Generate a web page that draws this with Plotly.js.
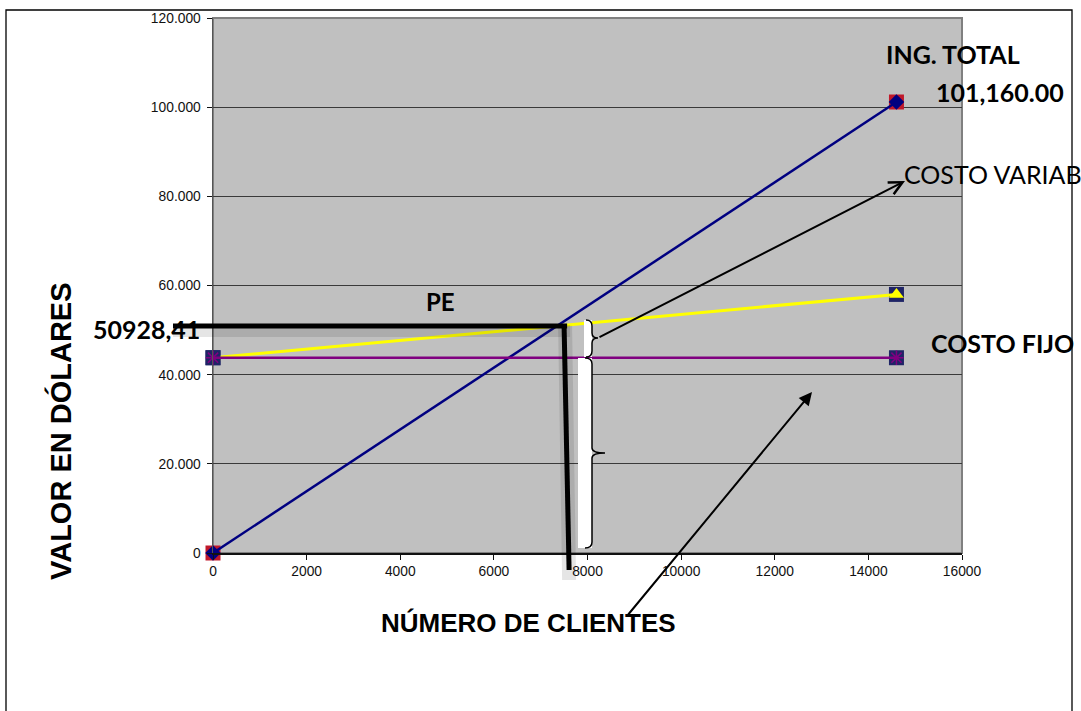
<!DOCTYPE html>
<html>
<head>
<meta charset="utf-8">
<script src="https://cdn.plot.ly/plotly-3.0.1.min.js"></script>
<style>html,body{margin:0;padding:0;background:#fff;}#chart{width:1081px;height:711px;}</style>
</head>
<body>
<div id="chart"></div>
<script>
// ---- data ----
const clientes = [0, 14600];
const ingresoTotal = [0, 101160];
const costoFijo = [43800, 43800];
const costoTotal = [43800, 58000];
const peClientes = 7500;
const peValor = 50928.41;
const xRange = [0, 16000];
const yRange = [0, 120000];

// ---- geometry helpers ----
const W = 1081, H = 711, ML = 213, MR = 119, MT = 18, MB = 158;
const PW = W - ML - MR, PH = H - MT - MB;
const xp = px => (px - ML) / PW;          // pixel -> paper
const yp = py => (H - MB - py) / PH;
const xd = v => (v - xRange[0]) / (xRange[1] - xRange[0]);  // data -> paper
const yd = v => (v - yRange[0]) / (yRange[1] - yRange[0]);
const P = (x, y) => `${xp(x)},${yp(y)}`;

const traces = [
  // ingreso total: red square behind navy diamond
  {x: clientes, y: ingresoTotal, mode: 'markers', showlegend: false, hoverinfo: 'skip', cliponaxis: false,
   marker: {symbol: 'square', size: 15, color: '#C0182A'}},
  {x: clientes, y: ingresoTotal, mode: 'lines+markers', name: 'ING. TOTAL', cliponaxis: false,
   line: {color: '#000080', width: 2.5}, marker: {symbol: 'diamond', size: 12, color: '#000080'}},
  // costo total (yellow)
  {x: clientes, y: costoTotal, mode: 'markers', showlegend: false, hoverinfo: 'skip', cliponaxis: false,
   marker: {symbol: 'square', size: 15, color: '#1F2466'}},
  {x: clientes, y: costoTotal, mode: 'lines+markers', name: 'COSTO TOTAL', cliponaxis: false,
   line: {color: '#FFFF00', width: 3}, marker: {symbol: 'triangle-up', size: 13, color: '#FFFF00'}},
  // costo fijo (purple)
  {x: clientes, y: costoFijo, mode: 'markers', showlegend: false, hoverinfo: 'skip', cliponaxis: false,
   marker: {symbol: 'square', size: 15, color: '#1F2466'}},
  {x: clientes, y: costoFijo, mode: 'lines+markers', name: 'COSTO FIJO', cliponaxis: false,
   line: {color: '#800080', width: 2.5}, marker: {symbol: 'asterisk-open', size: 12, line: {color: '#A020A8', width: 1.5}}}
];

const lblFont = (sz, bold) => ({family: 'Lato, "Open Sans", sans-serif', size: sz, color: '#000', weight: bold ? 'bold' : 'normal'});
const txt = (px, py, text, font, extra) => Object.assign({xref: 'paper', yref: 'paper', x: xp(px), y: yp(py), text: text,
  showarrow: false, xanchor: 'left', yanchor: 'middle', font: font}, extra || {});

const shapes = [
  // outer frame
  {type: 'rect', xref: 'paper', yref: 'paper', x0: xp(6), x1: xp(1072), y0: yp(730), y1: yp(10),
   line: {color: '#000', width: 1.3}, layer: 'below'},
  // plot area border (grey)
  {type: 'rect', xref: 'paper', yref: 'paper', x0: 0, x1: 1, y0: 0, y1: 1,
   line: {color: '#808080', width: 2}, layer: 'below'},
  // shadows of PE lines
  {type: 'line', xref: 'paper', yref: 'paper', x0: xp(173), x1: xd(peClientes) + 6 / PW,
   y0: yd(peValor) - 5 / PH, y1: yd(peValor) - 5 / PH, line: {color: 'rgba(0,0,0,0.10)', width: 12}, layer: 'above'},
  {type: 'line', xref: 'paper', yref: 'paper', x0: xd(peClientes) + 1 / PW, x1: xd(peClientes) + 5 / PW,
   y0: yd(peValor), y1: yp(580), line: {color: 'rgba(0,0,0,0.10)', width: 14}, layer: 'above'},
  // white bracket areas
  {type: 'rect', xref: 'paper', yref: 'paper', x0: xp(584), x1: xp(592), y0: yp(357), y1: yp(320),
   fillcolor: '#FFFFFF', line: {width: 0}, layer: 'above'},
  {type: 'rect', xref: 'paper', yref: 'paper', x0: xp(578), x1: xp(592), y0: yp(548), y1: yp(358),
   fillcolor: '#FFFFFF', line: {width: 0}, layer: 'above'},
  // braces
  {type: 'path', xref: 'paper', yref: 'paper', layer: 'above', line: {color: '#000', width: 1.5},
   path: `M${P(586,320)} Q${P(592,320)} ${P(592,326)} L${P(592,333)} Q${P(592,338)} ${P(598,338)} Q${P(592,338)} ${P(592,343)} L${P(592,351)} Q${P(592,357)} ${P(586,357)}`},
  {type: 'path', xref: 'paper', yref: 'paper', layer: 'above', line: {color: '#000', width: 1.5},
   path: `M${P(585,358)} Q${P(592,358)} ${P(592,364)} L${P(592,448)} Q${P(592,453)} ${P(605,453)} Q${P(592,453)} ${P(592,458)} L${P(592,542)} Q${P(592,548)} ${P(585,548)}`},
  // PE lines (thick black)
  {type: 'line', xref: 'paper', yref: 'paper', x0: xp(173), x1: xd(peClientes) + 3 / PW,
   y0: yd(peValor), y1: yd(peValor), line: {color: '#000', width: 5}, layer: 'above'},
  {type: 'line', xref: 'paper', yref: 'paper', x0: xd(peClientes), x1: xd(peClientes) + 5 / PW,
   y0: yd(peValor), y1: yp(570), line: {color: '#000', width: 5}, layer: 'above'}
];

const axFont = (sz) => ({family: '"Liberation Sans", Arial, sans-serif', size: sz, color: '#000', weight: 'bold'});

const annotations = [
  txt(60, 431, 'VALOR EN DÓLARES', axFont(29), {textangle: -90, xanchor: 'center'}),
  txt(528, 623, 'NÚMERO DE CLIENTES', axFont(26), {xanchor: 'center'}),
  txt(884, 54, 'ING. TOTAL', lblFont(25, true)),
  txt(934, 92, '101,160.00', lblFont(25, true)),
  txt(902, 174, 'COSTO VARIAB', lblFont(25, false)),
  txt(929, 343, 'COSTO FIJO', lblFont(25, true)),
  txt(440, 301, 'PE', lblFont(24, true), {xanchor: 'center'}),
  txt(91, 329, '50928,41', lblFont(25, true)),
  // arrows
  {xref: 'paper', yref: 'paper', x: xp(905), y: yp(181), text: '', showarrow: true, ax: 598 - 905, ay: 338 - 181,
   arrowhead: 5, arrowsize: 1.3, arrowwidth: 2, arrowcolor: '#000'},
  {xref: 'paper', yref: 'paper', x: xp(812), y: yp(392), text: '', showarrow: true, ax: 627 - 812, ay: 616 - 392,
   arrowhead: 2, arrowsize: 1.3, arrowwidth: 2, arrowcolor: '#000'}
];

const tickFont = {family: '"Liberation Sans", Arial, sans-serif', size: 13.8, color: '#111'};

const layout = {
  width: W, height: H,
  margin: {l: ML, r: MR, t: MT, b: MB, pad: 0},
  paper_bgcolor: '#FFFFFF', plot_bgcolor: '#C0C0C0',
  separators: ',.',
  showlegend: false,
  xaxis: {range: xRange, dtick: 2000, tick0: 0, tickformat: 'd', showgrid: false, zeroline: false,
          showline: true, linecolor: '#111', linewidth: 1.5, ticks: 'outside', ticklen: 5, tickcolor: '#111',
          tickfont: tickFont, fixedrange: true},
  yaxis: {range: yRange, dtick: 20000, tick0: 0, tickformat: ',', showgrid: true, gridcolor: '#3a3a3a', gridwidth: 1,
          zeroline: false, showline: true, linecolor: '#555', linewidth: 1.5, ticks: 'outside', ticklen: 5,
          tickcolor: '#111', tickfont: tickFont, ticklabelstandoff: 3, fixedrange: true},
  shapes: shapes,
  annotations: annotations
};

Plotly.newPlot('chart', traces, layout, {displayModeBar: false, staticPlot: true});
</script>
</body>
</html>
